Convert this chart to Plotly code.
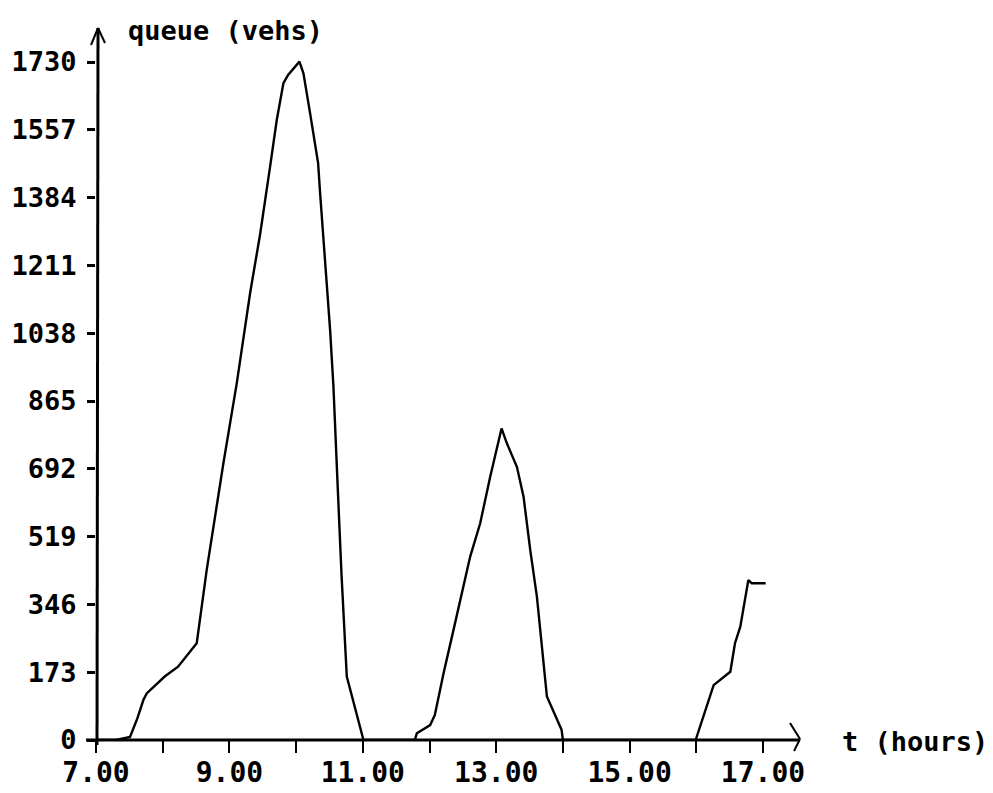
import plotly.graph_objects as go

# Data
t_hours = [7.0, 7.3, 7.51, 7.62, 7.71, 7.76, 8.03, 8.23, 8.51, 8.66, 8.91, 9.11, 9.31,
           9.46, 9.61, 9.71, 9.81, 9.88, 10.05, 10.11, 10.21, 10.33, 10.36, 10.41,
           10.46, 10.51, 10.56, 10.61, 10.63, 10.68, 10.73, 10.76, 11.01,
           11.78, 11.81, 12.01, 12.08, 12.21, 12.36, 12.48, 12.61, 12.76, 12.91, 13.08,
           13.16, 13.31, 13.41, 13.51, 13.61, 13.68, 13.76, 13.98, 14.0,
           15.99, 16.26, 16.51, 16.58, 16.66, 16.76, 16.78, 16.83, 17.04]
queue = [0, 0, 8, 55, 102, 119, 162, 187, 247, 434, 706, 910, 1140,
         1290, 1463, 1582, 1676, 1697, 1731, 1701, 1599, 1472, 1395, 1276,
         1174, 1046, 901, 723, 621, 425, 238, 162, 0,
         0, 17, 38, 64, 170, 281, 374, 468, 553, 672, 795,
         757, 697, 621, 485, 366, 247, 111, 26, 0,
         0, 140, 174, 247, 289, 391, 408, 400, 400]

y_ticks = [0, 173, 346, 519, 692, 865, 1038, 1211, 1384, 1557, 1730]
y_tick_labels = ["0", "173", "346", "519", "692", "865", "1038", "1211", "1384", "1557", "1730"]
x_ticks = [7, 8, 9, 10, 11, 12, 13, 14, 15, 16, 17]
x_tick_labels = ["7.00", "", "9.00", "", "11.00", "", "13.00", "", "15.00", "", "17.00"]

FONT = "DejaVu Sans Mono"

# page offset from the default body margin
OFF = 8
# plot area geometry (page pixels)
PL, PR, PT, PB = 96, 797, 28, 740
W, H = 993 - OFF, 793 - OFF
L, R, T, B = PL - OFF, PR - OFF, PT - OFF, PB - OFF


def px(xp):
    return (xp - PL) / (PR - PL)


def py(yp):
    return (PB - yp) / (PB - PT)


fig = go.Figure()
fig.add_trace(go.Scatter(x=t_hours, y=queue, mode="lines",
                         line=dict(color="black", width=2.4), showlegend=False))

shapes = []
line_style = dict(color="black", width=3)
thin = dict(color="black", width=2)
# x axis line with arrow
shapes.append(dict(type="line", xref="paper", yref="paper", x0=px(86), x1=px(800), y0=py(740), y1=py(740), line=line_style))
shapes.append(dict(type="line", xref="paper", yref="paper", x0=px(790), x1=px(800), y0=py(723), y1=py(739), line=thin))
shapes.append(dict(type="line", xref="paper", yref="paper", x0=px(800), x1=px(794), y0=py(739), y1=py(751), line=thin))
# y axis line with arrow
shapes.append(dict(type="line", xref="paper", yref="paper", x0=px(97), x1=px(98), y0=py(745), y1=py(28), line=line_style))
shapes.append(dict(type="line", xref="paper", yref="paper", x0=px(98), x1=px(91), y0=py(28), y1=py(45), line=thin))
shapes.append(dict(type="line", xref="paper", yref="paper", x0=px(98), x1=px(105), y0=py(28), y1=py(43), line=thin))

fig.update_layout(
    width=W, height=H,
    margin=dict(l=L, r=W - R, t=T, b=H - B, pad=0, autoexpand=False),
    plot_bgcolor="white", paper_bgcolor="white",
    shapes=shapes,
    xaxis=dict(range=[7, 7 + (PR - PL) / 66.7], showgrid=False, zeroline=False, showline=False,
               automargin=False,
               tickmode="array", tickvals=x_ticks, ticktext=x_tick_labels,
               ticks="outside", ticklen=12, tickwidth=2, tickcolor="black",
               ticklabelstandoff=-5,
               tickfont=dict(family=FONT, size=28, color="black", weight="bold")),
    yaxis=dict(range=[0, (PB - PT) * 1730 / 678], showgrid=False, zeroline=False, showline=False,
               automargin=False,
               tickmode="array", tickvals=y_ticks, ticktext=y_tick_labels,
               ticks="outside", ticklen=8, tickwidth=3, tickcolor="black",
               ticklabelstandoff=5,
               tickfont=dict(family=FONT, size=27, color="black", weight="bold")),
    annotations=[
        dict(text="queue (vehs)", xref="paper", yref="paper", x=px(126), y=py(31),
             xanchor="left", yanchor="middle", showarrow=False,
             font=dict(family=FONT, size=27, color="black", weight="bold")),
        dict(text="t (hours)", xref="paper", yref="paper", x=px(840), y=py(741),
             xanchor="left", yanchor="middle", showarrow=False,
             font=dict(family=FONT, size=27, color="black", weight="bold")),
    ],
)

fig.write_html("out.html")
